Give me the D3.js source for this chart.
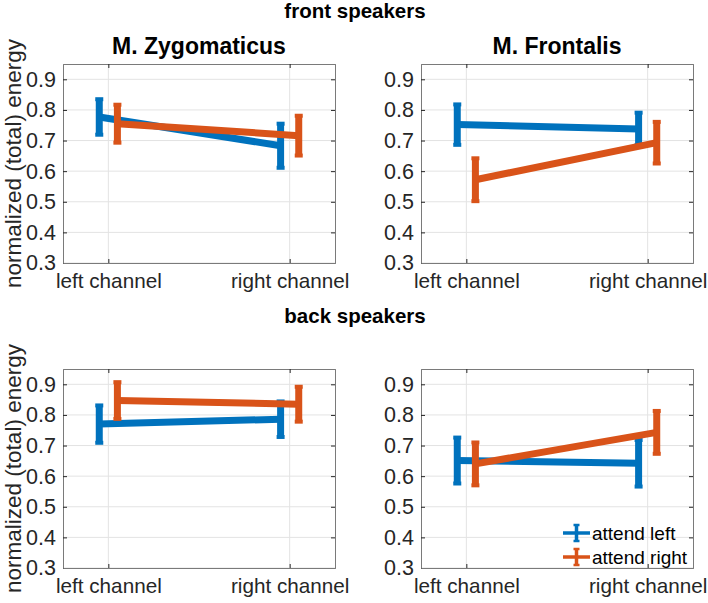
<!DOCTYPE html>
<html>
<head>
<meta charset="utf-8">
<script src="https://cdn.jsdelivr.net/npm/d3@7"></script>
<style>
  body { margin: 0; background: #fff; }
  svg { font-family: "Liberation Sans", Arial, sans-serif; }
</style>
</head>
<body>
<div id="svg-container"></div>
<script>
// Chart data
const categories = ["left channel", "right channel"];
const seriesNames = ["attend left", "attend right"];
const muscles = ["M. Zygomaticus", "M. Frontalis"];
const speakerRows = ["front speakers", "back speakers"];
const yTicks = [0.3, 0.4, 0.5, 0.6, 0.7, 0.8, 0.9];

// front speakers
const frontZygLeft = [0.777, 0.683];
const frontZygLeftErr = [0.058, 0.072];
const frontZygRight = [0.755, 0.716];
const frontZygRightErr = [0.062, 0.065];
const frontFroLeft = [0.752, 0.738];
const frontFroLeftErr = [0.066, 0.053];
const frontFroRight = [0.572, 0.693];
const frontFroRightErr = [0.07, 0.068];
// back speakers
const backZygLeft = [0.770, 0.786];
const backZygLeftErr = [0.061, 0.058];
const backZygRight = [0.847, 0.835];
const backZygRightErr = [0.06, 0.057];
const backFroLeft = [0.651, 0.642];
const backFroLeftErr = [0.075, 0.076];
const backFroRight = [0.640, 0.743];
const backFroRightErr = [0.07, 0.07];

const panelData = [
  [[frontZygLeft, frontZygLeftErr, frontZygRight, frontZygRightErr],
   [frontFroLeft, frontFroLeftErr, frontFroRight, frontFroRightErr]],
  [[backZygLeft, backZygLeftErr, backZygRight, backZygRightErr],
   [backFroLeft, backFroLeftErr, backFroRight, backFroRightErr]]
];

const width = 708;
const height = 603;
const colors = ["#0072BD", "#D95319"];
const offsets = [-0.05, 0.05];

const panelW = 272, panelH = 199;
const panelX = [63, 421];
const panelY = [64, 369];

const svg = d3.select("#svg-container")
  .append("svg")
    .attr("width", width)
    .attr("height", height);

const xScale = d3.scaleLinear().domain([0.75, 2.25]).range([0, panelW]);
const yScale = d3.scaleLinear().domain([0.3, 0.95]).range([panelH, 0]);

// Row titles
speakerRows.forEach((t, r) => {
  svg.append("text")
    .attr("x", 355)
    .attr("y", r === 0 ? 18 : 323)
    .attr("text-anchor", "middle")
    .style("font-weight", "bold")
    .style("font-size", "20.5px")
    .text(t);
});

panelY.forEach((py, r) => {
  // y label
  svg.append("text")
    .attr("transform", `translate(21, ${py + panelH / 2}) rotate(-90)`)
    .attr("text-anchor", "middle")
    .style("font-size", "22.5px")
    .style("fill", "#262626")
    .text("normalized (total) energy");

  panelX.forEach((px, c) => {
    const g = svg.append("g").attr("transform", `translate(${px}, ${py})`);

    if (r === 0) {
      g.append("text")
        .attr("x", panelW / 2)
        .attr("y", -10)
        .attr("text-anchor", "middle")
        .style("font-weight", "bold")
        .style("font-size", "23px")
        .text(muscles[c]);
    }

    // grid
    g.selectAll(".ygrid").data(yTicks).enter().append("line")
      .attr("x1", 0).attr("x2", panelW)
      .attr("y1", d => yScale(d)).attr("y2", d => yScale(d))
      .attr("stroke", "#e3e3e3");
    g.selectAll(".xgrid").data([1, 2]).enter().append("line")
      .attr("x1", d => xScale(d)).attr("x2", d => xScale(d))
      .attr("y1", 0).attr("y2", panelH)
      .attr("stroke", "#e3e3e3");

    // axes
    const yAxis = g.append("g")
      .call(d3.axisLeft(yScale).tickValues(yTicks).tickFormat(d3.format(".1f")).tickSize(-4).tickPadding(7));
    const yAxisR = g.append("g").attr("transform", `translate(${panelW},0)`)
      .call(d3.axisRight(yScale).tickValues(yTicks).tickFormat("").tickSize(-4));
    const xAxis = g.append("g").attr("transform", `translate(0,${panelH})`)
      .call(d3.axisBottom(xScale).tickValues([1, 2]).tickFormat((d, i) => categories[i]).tickSize(-4).tickPadding(10));
    const xAxisT = g.append("g")
      .call(d3.axisTop(xScale).tickValues([1, 2]).tickFormat("").tickSize(-4));
    [yAxis, yAxisR].forEach(a => a.selectAll("text").style("font-size", "21.5px"));
    xAxis.selectAll("text").style("font-size", "20.7px");
    [yAxis, yAxisR, xAxis, xAxisT].forEach(a => {
      a.select(".domain").attr("stroke", "#7a7a7a");
      a.selectAll(".tick line").attr("stroke", "#262626");
      a.selectAll("text").style("fill", "#262626")
        .style("font-family", "'Liberation Sans', Arial, sans-serif");
    });

    // series
    const [m0, e0, m1, e1] = panelData[r][c];
    const ser = [{ mean: m0, err: e0 }, { mean: m1, err: e1 }];
    ser.forEach((s, si) => {
      const pts = s.mean.map((v, i) => ({ x: i + 1 + offsets[si], y: v, e: s.err[i] }));
      const sg = g.append("g").attr("stroke", colors[si]).attr("fill", "none");
      sg.append("path")
        .attr("d", d3.line().x(d => xScale(d.x)).y(d => yScale(d.y))(pts))
        .attr("stroke-width", 7);
      pts.forEach(p => {
        const cx = xScale(p.x);
        sg.append("line")
          .attr("x1", cx).attr("x2", cx)
          .attr("y1", yScale(p.y - p.e)).attr("y2", yScale(p.y + p.e))
          .attr("stroke-width", 7);
        [p.y - p.e, p.y + p.e].forEach(v => {
          sg.append("line")
            .attr("x1", cx - 4).attr("x2", cx + 4)
            .attr("y1", yScale(v)).attr("y2", yScale(v))
            .attr("stroke-width", 4);
        });
      });
    });

    // legend in last panel
    if (r === 1 && c === 1) {
      const lg = g.append("g").attr("transform", `translate(${panelW - 130}, ${panelH - 35})`);
      seriesNames.forEach((name, i) => {
        const ly = i * 24;
        const item = lg.append("g").attr("stroke", colors[i]);
        item.append("line").attr("x1", 0).attr("x2", 27).attr("y1", ly).attr("y2", ly).attr("stroke-width", 3.5);
        item.append("line").attr("x1", 13.5).attr("x2", 13.5).attr("y1", ly - 8).attr("y2", ly + 8).attr("stroke-width", 3.5);
        [ly - 8, ly + 8].forEach(v => {
          item.append("line").attr("x1", 10.5).attr("x2", 16.5).attr("y1", v).attr("y2", v).attr("stroke-width", 2.5);
        });
        lg.append("text")
          .attr("x", 29).attr("y", ly)
          .attr("dominant-baseline", "central")
          .style("font-size", "19px")
          .style("fill", "#000")
          .text(name);
      });
    }
  });
});
</script>
</body>
</html>
